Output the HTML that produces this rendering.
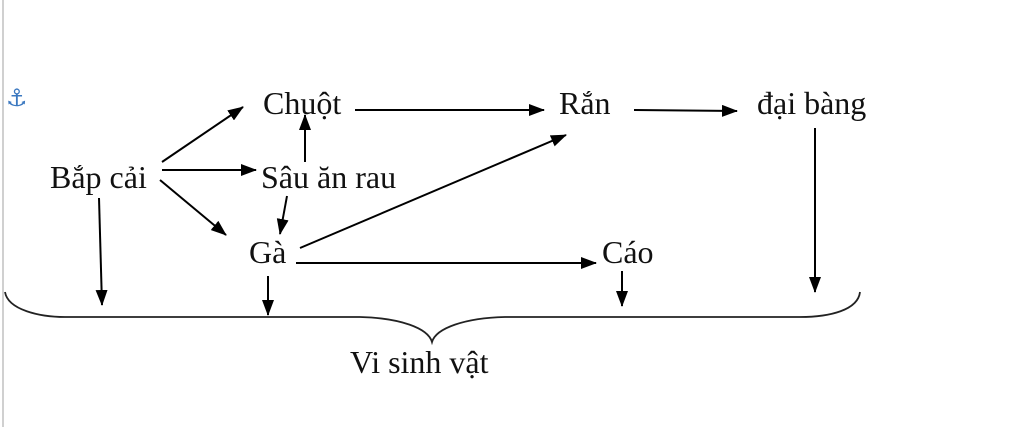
<!DOCTYPE html>
<html><head><meta charset="utf-8"><style>
html,body{margin:0;padding:0;background:#fff;width:1024px;height:427px;overflow:hidden}
</style></head><body>
<svg width="1024" height="427" viewBox="0 0 1024 427" xmlns="http://www.w3.org/2000/svg">
<defs>
<marker id="a" markerWidth="16" markerHeight="12" refX="15" refY="6" orient="auto" markerUnits="userSpaceOnUse">
<path d="M0,0 L16,6 L0,12 Z" fill="#000"/>
</marker>
</defs>
<rect x="2" y="0" width="2" height="427" fill="#d0d0d0"/>
<text x="6" y="106" font-family="DejaVu Sans, sans-serif" font-size="24" fill="#3b78c0">⚓</text>
<g font-family="Liberation Serif, serif" font-size="32" fill="#111">
<text x="263" y="114">Chuột</text>
<text x="559" y="114">Rắn</text>
<text x="757" y="114">đại bàng</text>
<text x="50" y="188">Bắp cải</text>
<text x="261" y="188">Sâu ăn rau</text>
<text x="249" y="263">Gà</text>
<text x="602" y="263">Cáo</text>
<text x="350" y="373">Vi sinh vật</text>
</g>
<g stroke="#000" stroke-width="2" fill="none" marker-end="url(#a)">
<line x1="162" y1="162" x2="243" y2="107"/>
<line x1="162" y1="170" x2="256" y2="170"/>
<line x1="160" y1="180" x2="226" y2="235"/>
<line x1="305" y1="162" x2="305" y2="115"/>
<line x1="287" y1="196" x2="280" y2="234"/>
<line x1="355" y1="110" x2="544" y2="110"/>
<line x1="634" y1="110" x2="737" y2="111"/>
<line x1="300" y1="248" x2="566" y2="135"/>
<line x1="296" y1="263" x2="596" y2="263"/>
<line x1="99" y1="198" x2="102" y2="305"/>
<line x1="268" y1="276" x2="268" y2="315"/>
<line x1="622" y1="271" x2="622" y2="306"/>
<line x1="815" y1="128" x2="815" y2="292"/>
</g>
<path d="M5,292 C8,310 40,317 65,317 L360,317 C400,318 428,328 432,342 C436,328 465,318 505,317 L800,317 C830,317 858,310 860,292" stroke="#222" stroke-width="1.8" fill="none"/>
</svg>
</body></html>
